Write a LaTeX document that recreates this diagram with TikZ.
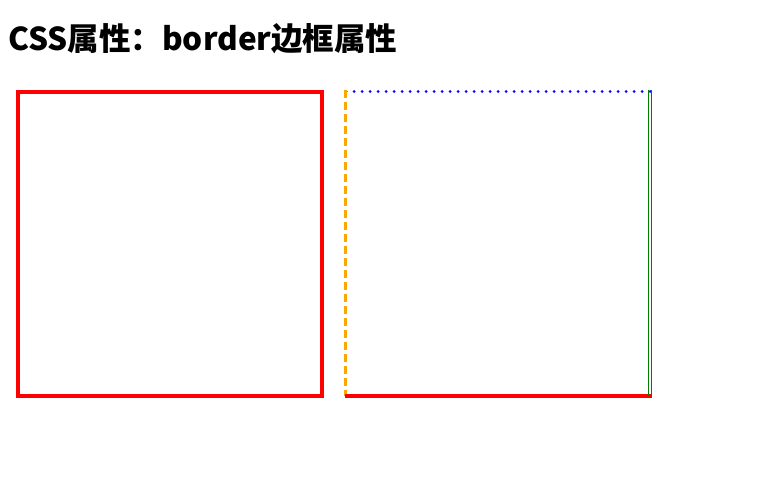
\documentclass[tikz,border=0pt]{standalone}
\usepackage{fontspec}
\newfontfamily\cjk{Noto Sans CJK SC}
\usepackage{tikz}
\usepackage{xcolor}
\definecolor{boxred}{RGB}{255,0,0}
\definecolor{dotblue}{RGB}{0,0,255}
\definecolor{dashorange}{RGB}{255,165,0}
\definecolor{dblgreen}{RGB}{0,128,0}

\begin{document}
\begin{tikzpicture}[x=1pt, y=-1pt]
        \useasboundingbox[fill=white] (0,0) rectangle (770,499);

        % Heading
        \node[anchor=base west, inner sep=0pt,
          font=\cjk\bfseries\fontsize{31.5}{38}\selectfont]
          (title) at (8,50) {CSS属性：border边框属性};

        % Left box, solid red border
        \draw[boxred, line width=4pt] (18,92) rectangle (322,396);

        % Right box, one style per side
        \draw[dotblue, line width=3pt, line cap=round,
          dash pattern=on 0pt off 8pt] (346,91.5)--(650,91.5);
        \draw[dashorange, line width=3pt,
          dash pattern=on 8pt off 4pt] (345.5,90)--(345.5,396);
        \draw[boxred, line width=4pt] (345,396)--(651,396);
        \draw[dblgreen, line width=1pt] (648.5,90)--(648.5,395);
        \draw[dblgreen, line width=1pt] (651.5,90)--(651.5,398);
      \end{tikzpicture}
\end{document}
